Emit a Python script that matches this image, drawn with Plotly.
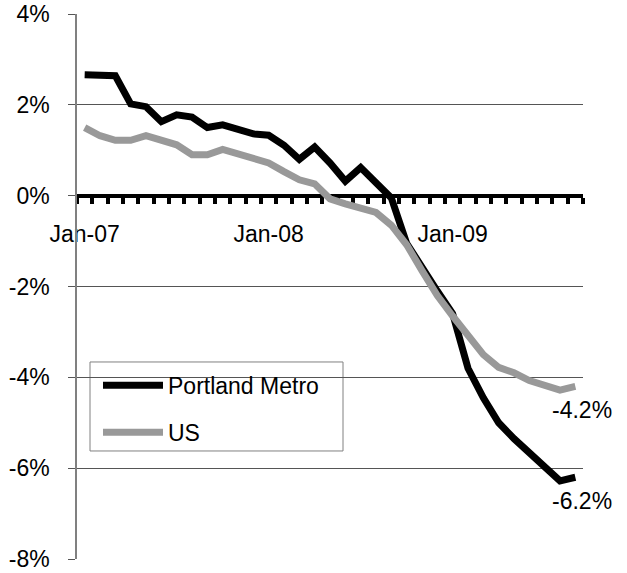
import plotly.graph_objects as go

months = [f"{m}-{y}" for y in ["07", "08", "09"] for m in
          ["Jan", "Feb", "Mar", "Apr", "May", "Jun", "Jul", "Aug", "Sep", "Oct", "Nov", "Dec"]][:33]

portland = [2.66, 2.66, 2.64, 2.02, 1.96, 1.63, 1.78, 1.73, 1.50, 1.56, 1.47, 1.36,
            1.33, 1.11, 0.80, 1.07, 0.72, 0.32, 0.62, 0.28, -0.05, -1.05, -1.60, -2.10,
            -2.60, -3.80, -4.45, -5.00, -5.35, -5.65, -5.95, -6.28, -6.20]
us = [1.50, 1.32, 1.22, 1.22, 1.32, 1.23, 1.12, 0.90, 0.90, 1.02, 0.92, 0.82,
      0.72, 0.53, 0.35, 0.26, -0.07, -0.18, -0.27, -0.37, -0.65, -1.08, -1.65, -2.20,
      -2.65, -3.05, -3.50, -3.78, -3.90, -4.07, -4.18, -4.28, -4.20]

x_labels = {"Jan-07": "Jan-07", "Jan-08": "Jan-08", "Jan-09": "Jan-09"}
y_ticks = [4, 2, 0, -2, -4, -6, -8]
y_tick_text = ["4%", "2%", "0%", "-2%", "-4%", "-6%", "-8%"]

FONT = "Liberation Sans, Arial, sans-serif"

fig = go.Figure()
fig.add_trace(go.Scatter(x=months, y=portland, name="Portland Metro", mode="lines",
                         line=dict(color="black", width=7), legendgroup="a"))
fig.add_trace(go.Scatter(x=months, y=us, name="US", mode="lines",
                         line=dict(color="#999999", width=7), legendgroup="b"))

for series in (us, portland):
    fig.add_annotation(x=months[-1], y=series[-1], text=f"{series[-1]:.1f}%",
                       showarrow=False, yanchor="top", xanchor="center", yshift=-9, xshift=7,
                       font=dict(size=23, color="black", family=FONT))

# legend frame
fig.add_shape(type="rect", xref="paper", yref="paper",
              x0=0.0257, x1=0.5257, y0=0.1982, y1=0.3615,
              line=dict(color="#808080", width=1), fillcolor="white", layer="between")

fig.update_layout(
    width=627, height=573,
    margin=dict(l=77, r=44, t=14, b=14, autoexpand=False),
    paper_bgcolor="white", plot_bgcolor="white",
    font=dict(family=FONT, size=23, color="black"),
    showlegend=True,
    legend=dict(x=0.0415, y=0.358, xanchor="left", yanchor="top",
                borderwidth=0, bgcolor="rgba(0,0,0,0)",
                font=dict(size=23), tracegroupgap=14, traceorder="grouped",
                itemwidth=60),
    xaxis=dict(type="category", range=[-0.5, 32.5], anchor="free", position=8 / 12,
               showline=True, linecolor="black", linewidth=4, layer="below traces",
               tickmode="array", tickvals=months,
               ticktext=[x_labels.get(m, "") for m in months],
               tickson="boundaries", ticks="outside", ticklen=6, tickwidth=4,
               tickcolor="black", showgrid=False, zeroline=False, automargin=False,
               ticklabelstandoff=17, tickangle=0),
    yaxis=dict(range=[-8, 4], tickmode="array", tickvals=y_ticks, ticktext=y_tick_text,
               showgrid=True, gridcolor="#555555", gridwidth=1,
               showline=True, linecolor="#808080", linewidth=1.5, automargin=False,
               ticks="outside", ticklen=7, tickcolor="#555555", tickwidth=1,
               zeroline=False, ticklabelstandoff=14),
)

fig.write_html("out.html", config={"displayModeBar": False},
               post_script="document.body.style.margin='0px';")
